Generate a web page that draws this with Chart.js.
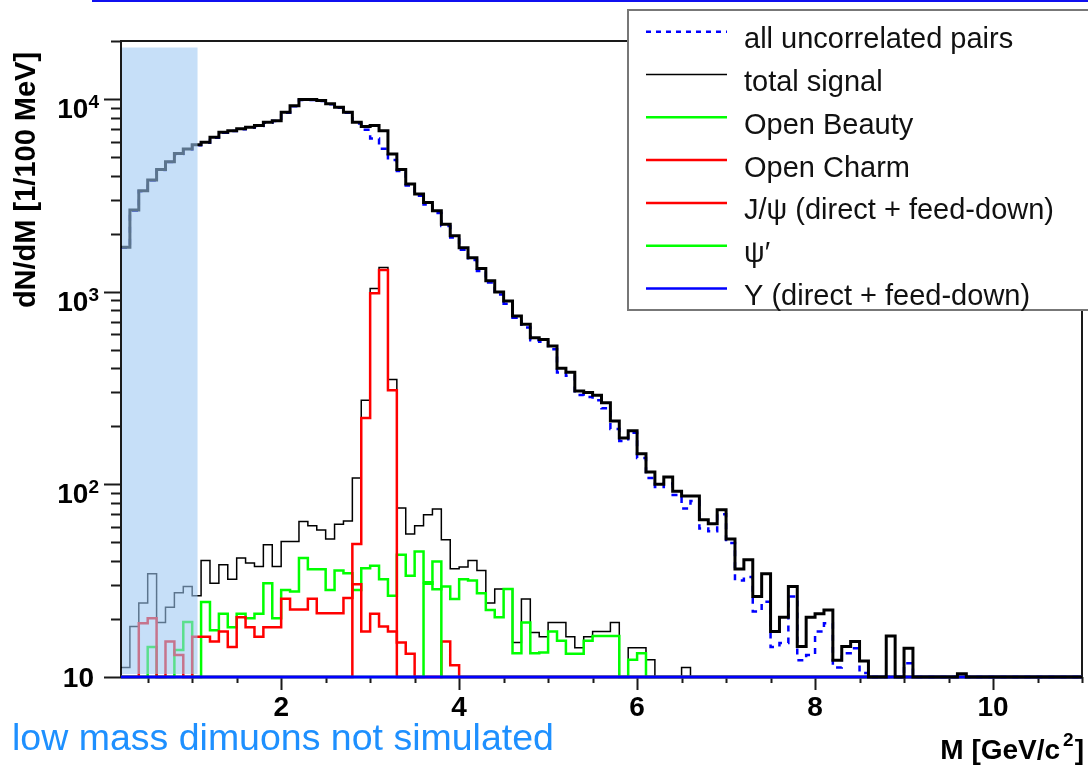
<!DOCTYPE html>
<html>
<head>
<meta charset="utf-8">
<title>Dimuon invariant mass</title>
<script src="https://cdn.jsdelivr.net/npm/chart.js@4.4.1/dist/chart.umd.min.js"></script>
<style>
  html, body { margin: 0; padding: 0; background: #fff; }
  #wrap { position: relative; width: 1088px; height: 765px; }
</style>
</head>
<body>
<div id="wrap"><canvas id="graph"></canvas></div>
<script>
// 100 MeV mass bins, first bin starts at 0.2 GeV/c2
var binStart = 0.2, binWidth = 0.1;

// counts per bin (0 = empty / below the axis floor)
var uncorrelated = [
  1690, 2630, 3320, 3770, 4280, 4710, 5190, 5470, 5760, 5920,
  6300, 6680, 6820, 6960, 7100, 7240, 7520, 7680, 8490, 9180,
  9870, 9870, 9760, 9390, 9000, 8480, 7460, 6920, 6240, 5520,
  4830, 4230, 3560, 3150, 2830, 2560, 2190, 1910, 1650, 1460,
  1280, 1115, 967, 866, 733, 652, 560, 549, 503, 381,
  366, 291, 284, 273, 248, 194, 168, 185, 137, 108,
  97, 101, 88, 75, 82, 59, 57, 70, 49.6, 31.7,
  33, 21.9, 24.6, 14.3, 15, 26.2, 12.2, 13, 17.2, 19,
  11.2, 13.3, 14.1, 10.5, 0, 0, 0, 0, 11.8, 0,
  0, 0, 0, 0, 0, 0, 0, 0, 0, 0,
  0, 0, 0, 0, 0, 0, 0, 0
];
var totalAll = [
  1700, 2650, 3340, 3800, 4300, 4730, 5220, 5500, 5790, 5960,
  6330, 6720, 6850, 7000, 7140, 7280, 7570, 7720, 8540, 9230,
  9930, 9930, 9820, 9440, 9060, 8540, 7570, 7190, 7280, 6850,
  5180, 4300, 3620, 3210, 2900, 2630, 2240, 1950, 1690, 1500,
  1320, 1140, 996, 895, 748, 677, 577, 565, 522, 400,
  382, 305, 300, 290, 265, 213, 174, 190, 144, 116,
  100, 109, 92, 87, 87, 65.5, 62.5, 73.8, 52, 36.3,
  40.6, 26.2, 34.3, 17.2, 20.4, 29.5, 14.4, 20.4, 21.3, 22.3,
  12.2, 14.4, 15.3, 12.1, 0, 0, 16.3, 0, 14.1, 0,
  0, 0, 0, 0, 10.4, 0, 0, 0, 0, 0,
  0, 0, 0, 0, 0, 0, 0, 0
];
var totalSignal = [
  11.2, 18.3, 24.2, 34.3, 19.2, 23, 27.4, 29.5, 26.4, 40.3,
  30.7, 38.2, 32.2, 41.4, 39, 37.5, 48.6, 37.5, 50.5, 50.5,
  64.2, 61, 58, 52, 62, 64.5, 108, 273, 1038, 1334,
  350, 75.4, 55.2, 61, 69.6, 74.5, 51.5, 36.5, 37.2, 40.3,
  35.7, 24.2, 28.6, 28.6, 15.1, 25.4, 17, 16.2, 19.2, 19.2,
  16.2, 14.2, 16.2, 17.2, 17.2, 19.2, 0, 14.2, 14.2, 12.3,
  0, 0, 0, 11.2, 0, 0, 0, 0, 0, 0,
  0, 0, 0, 0, 0, 0, 0, 0, 0, 0,
  0, 0, 0, 0, 0, 0, 0, 0, 0, 0,
  0, 0, 0, 0, 0, 0, 0, 0, 0, 0,
  0, 0, 0, 0, 0, 0, 0, 0
];
var openBeauty = [
  0, 0, 0, 14.3, 0, 0, 13.8, 19.3, 0, 24.5,
  17.5, 21.3, 18.1, 21.3, 20.2, 21.3, 30.7, 20.2, 28.3, 27.8,
  41.4, 36.2, 36.2, 28.3, 35.7, 34.6, 28.3, 36.7, 37.8, 32.2,
  26.4, 43.1, 33.5, 44.8, 31, 28.5, 29.5, 25.4, 32.2, 31.7,
  27.2, 22.3, 20.4, 28.6, 13.3, 19.2, 13.3, 13.4, 17.2, 15.4,
  13.2, 13.2, 15.4, 16.3, 16.3, 16.3, 0, 12.3, 13.3, 0,
  0, 0, 0, 0, 0, 0, 0, 0, 0, 0,
  0, 0, 0, 0, 0, 0, 0, 0, 0, 0,
  0, 0, 0, 0, 0, 0, 0, 0, 0, 0,
  0, 0, 0, 0, 0, 0, 0, 0, 0, 0,
  0, 0, 0, 0, 0, 0, 0, 0
];
var openCharm = [
  0, 0, 19, 20.2, 0, 15.3, 13, 0, 16.2, 16.2,
  15.3, 17.2, 14.3, 20.4, 18.1, 16.2, 18.1, 18.1, 25.5, 22.4,
  22.4, 25.5, 21.4, 21.4, 21.4, 25.7, 30.3, 17.2, 21.3, 18.3,
  17.2, 15.1, 13.2, 0, 0, 0, 15.3, 11.5, 0, 0,
  0, 0, 0, 0, 0, 0, 0, 0, 0, 0,
  0, 0, 0, 0, 0, 0, 0, 0, 0, 0,
  0, 0, 0, 0, 0, 0, 0, 0, 0, 0,
  0, 0, 0, 0, 0, 0, 0, 0, 0, 0,
  0, 0, 0, 0, 0, 0, 0, 0, 0, 0,
  0, 0, 0, 0, 0, 0, 0, 0, 0, 0,
  0, 0, 0, 0, 0, 0, 0, 0
];
var jpsi = [
  0, 0, 0, 0, 0, 0, 0, 0, 0, 0,
  0, 0, 0, 0, 0, 0, 0, 0, 0, 0,
  0, 0, 0, 0, 0, 0, 49, 221, 982, 1297,
  308, 0, 0, 0, 0, 0, 0, 0, 0, 0,
  0, 0, 0, 0, 0, 0, 0, 0, 0, 0,
  0, 0, 0, 0, 0, 0, 0, 0, 0, 0,
  0, 0, 0, 0, 0, 0, 0, 0, 0, 0,
  0, 0, 0, 0, 0, 0, 0, 0, 0, 0,
  0, 0, 0, 0, 0, 0, 0, 0, 0, 0,
  0, 0, 0, 0, 0, 0, 0, 0, 0, 0,
  0, 0, 0, 0, 0, 0, 0, 0
];
var psiPrime = [
  0, 0, 0, 0, 0, 0, 0, 0, 0, 0,
  0, 0, 0, 0, 0, 0, 0, 0, 0, 0,
  0, 0, 0, 0, 0, 0, 0, 0, 0, 0,
  0, 0, 0, 0, 30.5, 39.8, 0, 0, 0, 0,
  0, 0, 0, 0, 0, 0, 0, 0, 0, 0,
  0, 0, 0, 0, 0, 0, 0, 0, 0, 0,
  0, 0, 0, 0, 0, 0, 0, 0, 0, 0,
  0, 0, 0, 0, 0, 0, 0, 0, 0, 0,
  0, 0, 0, 0, 0, 0, 0, 0, 0, 0,
  0, 0, 0, 0, 0, 0, 0, 0, 0, 0,
  0, 0, 0, 0, 0, 0, 0, 0
];
var upsilon = [
  0, 0, 0, 0, 0, 0, 0, 0, 0, 0,
  0, 0, 0, 0, 0, 0, 0, 0, 0, 0,
  0, 0, 0, 0, 0, 0, 0, 0, 0, 0,
  0, 0, 0, 0, 0, 0, 0, 0, 0, 0,
  0, 0, 0, 0, 0, 0, 0, 0, 0, 0,
  0, 0, 0, 0, 0, 0, 0, 0, 0, 0,
  0, 0, 0, 0, 0, 0, 0, 0, 0, 0,
  0, 0, 0, 0, 0, 0, 0, 0, 0, 0,
  0, 0, 0, 0, 0, 0, 0, 0, 0, 0,
  0, 0, 4, 6, 0, 0, 0, 0, 2, 0,
  0, 1, 0, 0, 0, 0, 0, 0
];

var xTicks = [2, 4, 6, 8, 10];
var yTicks = [10, 100, 1000, 10000];

var xMin = 0.2, xMax = 11, yMin = 10, yMax = 20000;
var lowMassCut = 1.06;   // end of the non-simulated band
var bandTop = 18500;

var FONT = '"Liberation Sans", Arial, Helvetica, sans-serif';

// bins -> step outline (empty bins sit on the axis floor like ROOT does)
function histo(values) {
  var pts = [];
  values.forEach(function (v, i) {
    var lo = +(binStart + i * binWidth).toFixed(2);
    var hi = +(lo + binWidth).toFixed(2);
    var y = v > yMin ? v : yMin;
    pts.push({ x: lo, y: y }, { x: hi, y: y });
  });
  return pts;
}

function line(label, values, color, width, order, extra) {
  var ds = {
    label: label,
    data: histo(values),
    borderColor: color,
    borderWidth: width,
    pointRadius: 0,
    fill: false,
    tension: 0,
    borderJoinStyle: 'miter',
    clip: 6,
    order: order
  };
  for (var k in extra || {}) ds[k] = extra[k];
  return ds;
}

var datasets = [
  line('all uncorrelated pairs', uncorrelated, '#0000ff', 2.5, 2, { borderDash: [6, 6] }),
  line('total signal', totalSignal, '#000000', 1.5, 8),
  line('Open Beauty', openBeauty, '#00ff00', 2.5, 7),
  line('Open Charm', openCharm, '#ff0000', 2.5, 6),
  line('J/\u03c8 (direct + feed-down)', jpsi, '#ff0000', 2.5, 5),
  line('\u03c8\u2032', psiPrime, '#00ff00', 2.5, 4),
  line('\u03a5 (direct + feed-down)', upsilon, '#0000ff', 3, 3),
  line('', totalAll, '#000000', 3, 1)
];
var legendRows = [0, 1, 2, 3, 4, 5, 6];

function drawText(ctx, txt, x, y, size, bold, align) {
  ctx.font = (bold ? 'bold ' : '') + size + 'px ' + FONT;
  ctx.textAlign = align || 'left';
  ctx.fillText(txt, x, y);
}

var decorations = {
  id: 'decorations',
  // frame and ticks go under the histograms
  beforeDatasetsDraw: function (chart) {
    var ctx = chart.ctx, a = chart.chartArea;
    var xs = chart.scales.x, ys = chart.scales.y;
    ctx.save();
    ctx.strokeStyle = '#1a1a1a';
    ctx.lineWidth = 2;
    ctx.strokeRect(a.left, a.top, a.right - a.left, a.bottom - a.top);

    ctx.beginPath();
    for (var d = yMin; d <= yMax; d *= 10) {
      for (var k = 1; k <= 9; k++) {
        var v = d * k;
        if (v > yMax) break;
        var py = Math.round(ys.getPixelForValue(v)) + 0.5;
        ctx.moveTo(a.left - (k === 1 ? 17 : 10), py);
        ctx.lineTo(a.left, py);
      }
    }
    for (var m = 0.5; m <= xMax + 1e-6; m += 0.5) {
      var px = Math.round(xs.getPixelForValue(m)) + 0.5;
      var major = xTicks.indexOf(m) >= 0;
      ctx.moveTo(px, a.bottom);
      ctx.lineTo(px, a.bottom + (major ? 13 : 6));
    }
    ctx.stroke();
    ctx.restore();
  },
  afterDatasetsDraw: function (chart) {
    var ctx = chart.ctx, a = chart.chartArea;
    var xs = chart.scales.x, ys = chart.scales.y;
    ctx.save();

    // band over the low mass region
    var bx = xs.getPixelForValue(lowMassCut);
    var by = ys.getPixelForValue(bandTop);
    ctx.fillStyle = 'rgba(156, 200, 243, 0.58)';
    ctx.fillRect(a.left + 1, by, bx - a.left - 1, a.bottom - 3 - by);

    // tick labels
    ctx.fillStyle = '#000';
    ctx.textBaseline = 'alphabetic';
    xTicks.forEach(function (t) {
      drawText(ctx, String(t), xs.getPixelForValue(t), 716, 28, true, 'center');
    });
    yTicks.forEach(function (t) {
      var py = ys.getPixelForValue(t);
      var e = Math.round(Math.log10(t));
      if (e === 1) {
        drawText(ctx, '10', 94, py + 10, 28, true, 'right');
      } else {
        drawText(ctx, String(e), 99, py + 9, 19, true, 'right');
        ctx.font = 'bold 19px ' + FONT;
        var we = ctx.measureText(String(e)).width;
        drawText(ctx, '10', 99 - we, py + 19, 28, true, 'right');
      }
    });

    // axis titles
    ctx.save();
    ctx.translate(35, 180);
    ctx.rotate(-Math.PI / 2);
    drawText(ctx, 'dN/dM [1/100 MeV]', 0, 0, 29, true, 'center');
    ctx.restore();

    ctx.font = 'bold 28px ' + FONT;
    var wClose = ctx.measureText(']').width;
    drawText(ctx, ']', 1084, 759, 28, true, 'right');
    drawText(ctx, '2', 1084 - wClose - 1, 746, 19, true, 'right');
    ctx.font = 'bold 19px ' + FONT;
    var wSup = ctx.measureText('2').width;
    drawText(ctx, 'M [GeV/c', 1084 - wClose - wSup - 4, 759, 28, true, 'right');

    // legend box
    var lx = 628, ly = 10, lw = chart.width - lx + 10, lh = 300;
    ctx.fillStyle = '#fff';
    ctx.fillRect(lx, ly, lw, lh);
    ctx.strokeStyle = '#777';
    ctx.lineWidth = 2;
    ctx.strokeRect(lx, ly, lw, lh);
    legendRows.forEach(function (idx, r) {
      var ds = chart.data.datasets[idx];
      var y = 31.7 + r * 42.8;
      ctx.save();
      ctx.strokeStyle = ds.borderColor;
      ctx.lineWidth = Math.min(ds.borderWidth, 2.5);
      ctx.setLineDash(ds.borderDash ? [5, 5] : []);
      ctx.beginPath();
      ctx.moveTo(646, y);
      ctx.lineTo(727, y);
      ctx.stroke();
      ctx.restore();
      ctx.fillStyle = '#111';
      drawText(ctx, ds.label, 744, y + 16.5, 29, false, 'left');
    });

    // note under the axis
    ctx.fillStyle = '#1e90ff';
    drawText(ctx, 'low mass dimuons not simulated', 12, 750, 37.5, false, 'left');

    // slide rule along the top edge
    ctx.fillStyle = '#1010f0';
    ctx.fillRect(92, 0, chart.width - 92, 2);

    ctx.restore();
  }
};

var chart = new Chart(document.getElementById('graph').getContext('2d'), {
  type: 'line',
  data: { datasets: datasets },
  options: {
    responsive: true,
    maintainAspectRatio: false,
    devicePixelRatio: 1,
    animation: false,
    events: [],
    layout: { padding: { left: 121, right: 6, top: 41, bottom: 88 } },
    scales: {
      x: { type: 'linear', min: xMin, max: xMax, display: false },
      y: { type: 'logarithmic', min: yMin, max: yMax, display: false }
    },
    plugins: {
      legend: { display: false },
      tooltip: { enabled: false }
    }
  },
  plugins: [decorations]
});
</script>
</body>
</html>
